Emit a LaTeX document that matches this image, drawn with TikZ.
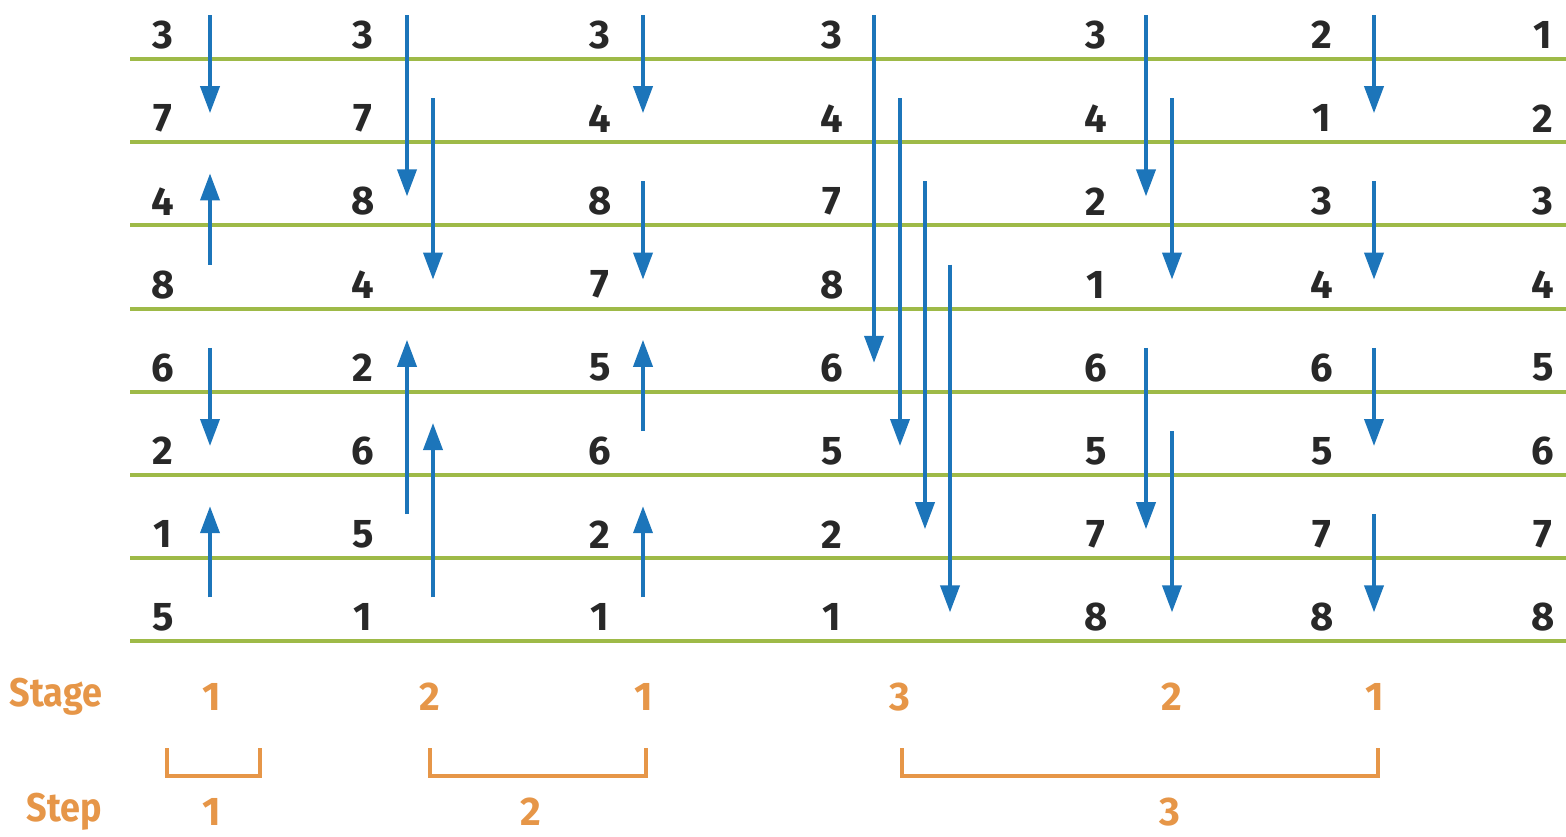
\documentclass[tikz,border=0pt]{standalone}
\usepackage{fontspec}
\setmainfont{Fira Sans}
\usetikzlibrary{arrows.meta}
\definecolor{rungreen}{RGB}{158,186,72}
\definecolor{swapblue}{RGB}{28,117,186}
\definecolor{stageorange}{RGB}{230,150,72}
\definecolor{digitgray}{RGB}{40,40,40}
\begin{document}
\begin{tikzpicture}[x=1pt, y=-1pt, line width=4pt,
  num/.style={font=\fontsize{40}{40}\selectfont\bfseries, text=digitgray, inner sep=0pt},
  tag/.style={font=\fontsize{40}{40}\selectfont\bfseries, text=stageorange, inner sep=0pt},
  swap/.style={draw=swapblue, line width=3.8pt, -{Triangle[length=27pt,width=19pt]}},
  bracket/.style={draw=stageorange, line width=4pt}]
  \useasboundingbox (0,0) rectangle (1566,836);
  % wires
  \foreach \r in {0,...,7}
    \draw[rungreen] (130,59+83.2*\r) -- (1566,59+83.2*\r);
  % values after each stage
  \foreach \c/\x/\vals in {0/163/{3,7,4,8,6,2,1,5}, 1/363/{3,7,8,4,2,6,5,1},
      2/600/{3,4,8,7,5,6,2,1}, 3/832/{3,4,7,8,6,5,2,1}, 4/1096/{3,4,2,1,6,5,7,8},
      5/1322/{2,1,3,4,6,5,7,8}, 6/1543/{1,2,3,4,5,6,7,8}}
    \foreach \v [count=\r from 0] in \vals
      \node[num] (n\c-\r) at (\x,35+83.2*\r) {\v};
  % compare-exchange arrows: x / from row / to row
  \foreach \x/\a/\b in {210/0/1, 210/3/2, 210/4/5, 210/7/6,
      407/0/2, 433/1/3, 407/6/4, 433/7/5,
      643/0/1, 643/2/3, 643/5/4, 643/7/6,
      874/0/4, 900/1/5, 925/2/6, 950/3/7,
      1146/0/2, 1172/1/3, 1146/4/6, 1172/5/7,
      1374/0/1, 1374/2/3, 1374/4/5, 1374/6/7} {
    \pgfmathsetmacro\ya{15+83.2*\a}
    \pgfmathsetmacro\yb{(\b>\a) ? (30+83.2*\b) : (7+83.2*\b)}
    \draw[swap] (\x,\ya) -- (\x,\yb);
  }
  % stages and steps
  \node[tag, anchor=east, xscale=0.9] (stage) at (104,697) {Stage};
  \node[tag] (s1) at (212,697) {1};
  \node[tag] (s2) at (430,697) {2};
  \node[tag] (s3) at (644,697) {1};
  \node[tag] (s4) at (900,697) {3};
  \node[tag] (s5) at (1172,697) {2};
  \node[tag] (s6) at (1375,697) {1};
  \draw[bracket] (167,748) -- (167,776) -- (260,776) -- (260,748);
  \draw[bracket] (430,748) -- (430,776) -- (646,776) -- (646,748);
  \draw[bracket] (902,748) -- (902,776) -- (1378,776) -- (1378,748);
  \node[tag, anchor=east, xscale=0.9] (step) at (104,812) {Step};
  \node[tag] (p1) at (212,812) {1};
  \node[tag] (p2) at (531,812) {2};
  \node[tag] (p3) at (1170,812) {3};
\end{tikzpicture}
\end{document}
